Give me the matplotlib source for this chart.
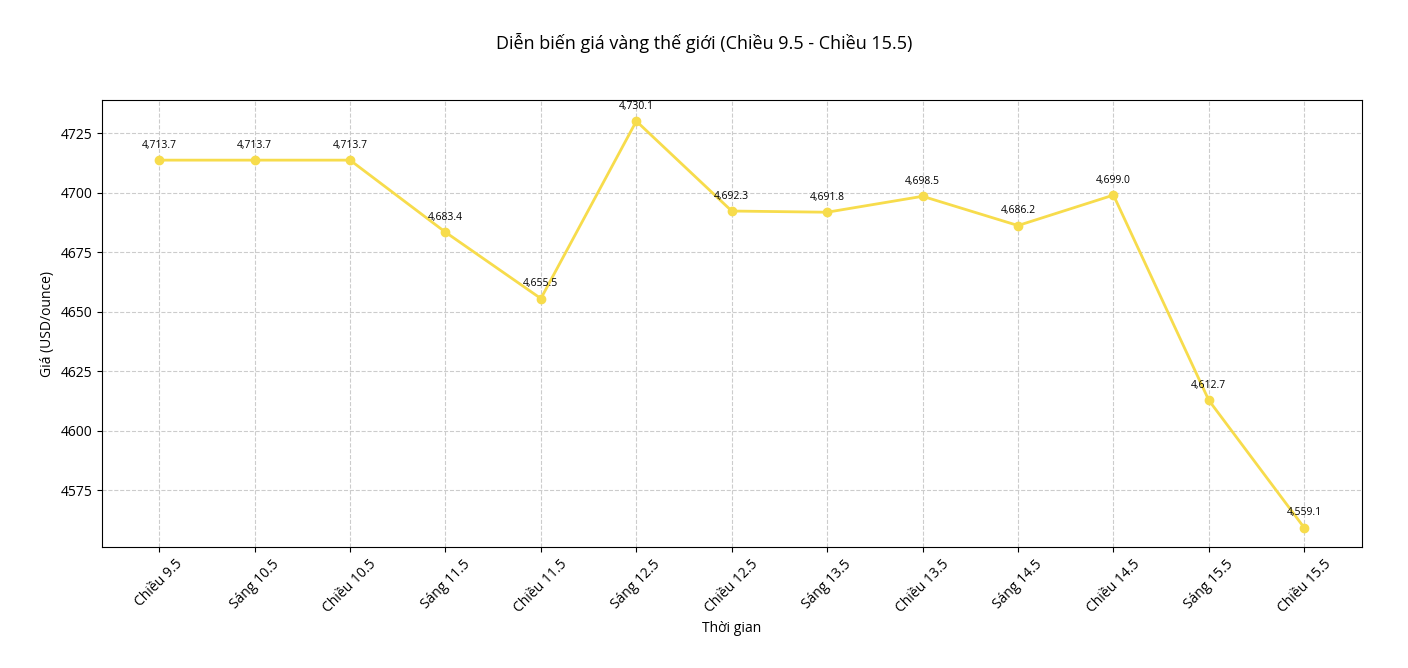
import matplotlib
matplotlib.use("Agg")
import matplotlib.pyplot as plt

labels = ["Chiều 9.5","Sáng 10.5","Chiều 10.5","Sáng 11.5","Chiều 11.5","Sáng 12.5","Chiều 12.5",
          "Sáng 13.5","Chiều 13.5","Sáng 14.5","Chiều 14.5","Sáng 15.5","Chiều 15.5"]
prices = [4713.7,4713.7,4713.7,4683.4,4655.5,4730.1,4692.3,4691.8,4698.5,4686.2,4699.0,4612.7,4559.1]

plt.rcParams['font.family'] = ['Open Sans', 'DejaVu Sans']
fig = plt.figure(figsize=(14.08, 6.68), dpi=100)
ax = fig.add_axes([0.0724, 0.181, 0.8946, 0.669])
x = list(range(len(labels)))
ax.plot(x, prices, color='#F7DC4C', lw=2, marker='o', ms=6)
for xi, p in zip(x, prices):
    ax.annotate(f"{p:,.1f}", (xi, p), xytext=(0, 9), textcoords='offset points',
                ha='center', fontsize=7.5)
ax.set_xticks(x)
ax.set_xticklabels(labels, rotation=45, fontsize=10)
ax.set_xlim(-0.6, 12.6)
ax.set_ylim(4551.0, 4738.9)
ax.set_yticks([4575,4600,4625,4650,4675,4700,4725])
ax.tick_params(axis='y', labelsize=10)
ax.grid(True, linestyle='--', color='#cccccc', lw=0.8)
ax.set_axisbelow(True)
ax.set_xlabel("Thời gian", fontsize=10)
ax.set_ylabel("Giá (USD/ounce)", fontsize=10)
fig.suptitle("Diễn biến giá vàng thế giới (Chiều 9.5 - Chiều 15.5)", fontsize=13, y=0.95)
fig.savefig("out.png", dpi=100)
